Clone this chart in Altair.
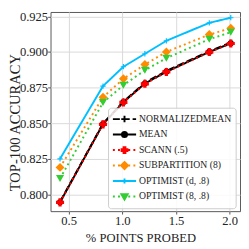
import altair as alt
import pandas as pd

# ---- data ----
x_vals = [0.42, 0.82, 1.01, 1.21, 1.41, 1.81, 2.01]
series_names = ["NormalizedMean", "Mean", "Scann (.5)", "SubPartition (8)",
                "Optimist (d, .8)", "Optimist (8, .8)"]
normalized_mean = [0.7948, 0.8498, 0.8652, 0.8785, 0.8867, 0.9006, 0.9066]
mean = [0.7945, 0.8494, 0.8648, 0.8779, 0.8861, 0.9001, 0.9061]
scann = [0.7944, 0.8492, 0.8646, 0.8777, 0.8860, 0.9000, 0.9060]
subpartition = [0.8190, 0.8683, 0.8812, 0.8912, 0.9001, 0.9123, 0.9167]
optimist_d = [0.8250, 0.8761, 0.8897, 0.8988, 0.9079, 0.9205, 0.9241]
optimist_8 = [0.8112, 0.8645, 0.8767, 0.8872, 0.8957, 0.9090, 0.9139]

y_ticks = [0.800, 0.825, 0.850, 0.875, 0.900, 0.925]
x_ticks = [0.5, 1.0, 1.5, 2.0]

values = [normalized_mean, mean, scann, subpartition, optimist_d, optimist_8]
rows = []
for name, ys in zip(series_names, values):
    for xv, yv in zip(x_vals, ys):
        rows.append({"x": xv, "y": yv, "series": name})
df = pd.DataFrame(rows)

FONT = "'Liberation Serif', 'Times New Roman', 'DejaVu Serif', serif"

# ---- styles ----
colors = ["#000000", "#000000", "#ff0000", "#ff8c00", "#00bfff", "#32cd32"]
dashes = [[7.4, 3.2], [1, 0], [2, 3.3], [2, 3.3], [1, 0], [2, 3.3]]
thin_plus = "M-1,0H1M0,-1V1"
plot_shapes = [thin_plus, "circle", "cross", "diamond", thin_plus, "triangle-down"]
plot_sizes = [45, 40, 70, 85, 30, 70]
plot_filled = [False, True, True, True, False, True]
plot_colors = ["#555555", "#000000", "#ff0000", "#ff8c00", "#00bfff", "#32cd32"]

dots = "M-1,0H-0.833M-0.558,0H-0.392M-0.117,0H0.05M0.325,0H0.492M0.767,0H0.933"
legend_paths = [
    "M-1,0H-0.4M-0.15,0H0.45M0.7,0H1M-0.28,0H0.28M0,-0.28V0.28",
    "M-1,0H1M-0.22,0A0.22,0.22,0,1,0,0.22,0A0.22,0.22,0,1,0,-0.22,0Z",
    dots + "M-0.08,-0.25H0.08V-0.08H0.25V0.08H0.08V0.25H-0.08V0.08H-0.25V-0.08H-0.08Z",
    dots + "M0,-0.3L0.3,0L0,0.3L-0.3,0Z",
    "M-1,0H1M-0.2,0H0.2M0,-0.22V0.22",
    dots + "M-0.27,-0.2H0.27L0,0.27Z",
]

X = alt.X("x:Q",
          scale=alt.Scale(domain=[0.3316, 2.0962], nice=False, zero=False),
          axis=alt.Axis(values=x_ticks, format=".1f", title="% POINTS PROBED",
                        titleX=93, titleY=31, titleAlign="center",
                        titleBaseline="alphabetic", titleFontSize=13))
Y = alt.Y("y:Q",
          scale=alt.Scale(domain=[0.78825, 0.92812], nice=False, zero=False),
          axis=alt.Axis(values=y_ticks, format=".3f", title="TOP-100 ACCURACY",
                        titleX=-32, titleY=114, titleAngle=270, titleAlign="center",
                        titleBaseline="alphabetic", titleFontSize=15, labelPadding=0))

base = alt.Chart(df)
layers = []
for i, name in enumerate(series_names):
    sub = base.transform_filter(alt.datum.series == name)
    layers.append(sub.mark_line(color=colors[i], strokeDash=dashes[i],
                                strokeWidth=2).encode(x=X, y=Y))
    layers.append(sub.mark_point(shape=plot_shapes[i], size=plot_sizes[i],
                                 filled=plot_filled[i], color=plot_colors[i],
                                 opacity=1,
                                 strokeWidth=1.2 if not plot_filled[i] else 0.5)
                  .encode(x=X, y=Y))

leg = alt.Legend(title=None, orient="none", legendX=59.5, legendY=99,
                 padding=4, rowPadding=0, clipHeight=15.6, symbolSize=576,
                 symbolStrokeWidth=2, labelFont=FONT,
                 labelFontSize=10, labelOffset=2, labelColor="#222222",
                 labelExpr="replace(upper(datum.label), '(D,', '(d,')",
                 fillColor="rgba(255,255,255,0.85)", strokeColor="#cccccc",
                 cornerRadius=3, symbolOpacity=1)

legend_layer = base.transform_filter("false").mark_point(filled=True, opacity=1).encode(
    x=X, y=Y,
    fill=alt.Fill("series:N", scale=alt.Scale(domain=series_names, range=colors), legend=leg),
    stroke=alt.Stroke("series:N", scale=alt.Scale(domain=series_names, range=colors), legend=leg),
    shape=alt.Shape("series:N", scale=alt.Scale(domain=series_names, range=legend_paths), legend=leg),
)
layers.append(legend_layer)

chart = alt.layer(*layers).properties(
    width=196, height=206,
    padding={"left": 44, "top": 0, "right": 1, "bottom": 35},
    autosize=alt.AutoSizeParams(type="none"),
).configure_view(
    stroke="#555555", strokeWidth=1
).configure_axis(
    labelFont=FONT, labelFontSize=13, labelColor="#222222",
    titleFont=FONT, titleColor="#222222", titleFontWeight="normal",
    gridColor="#d9d9d9", gridWidth=1, domain=False,
    tickColor="#555555", tickSize=3, labelPadding=1,
)

chart.save("out.html", embed_options={"renderer": "svg", "actions": False})
